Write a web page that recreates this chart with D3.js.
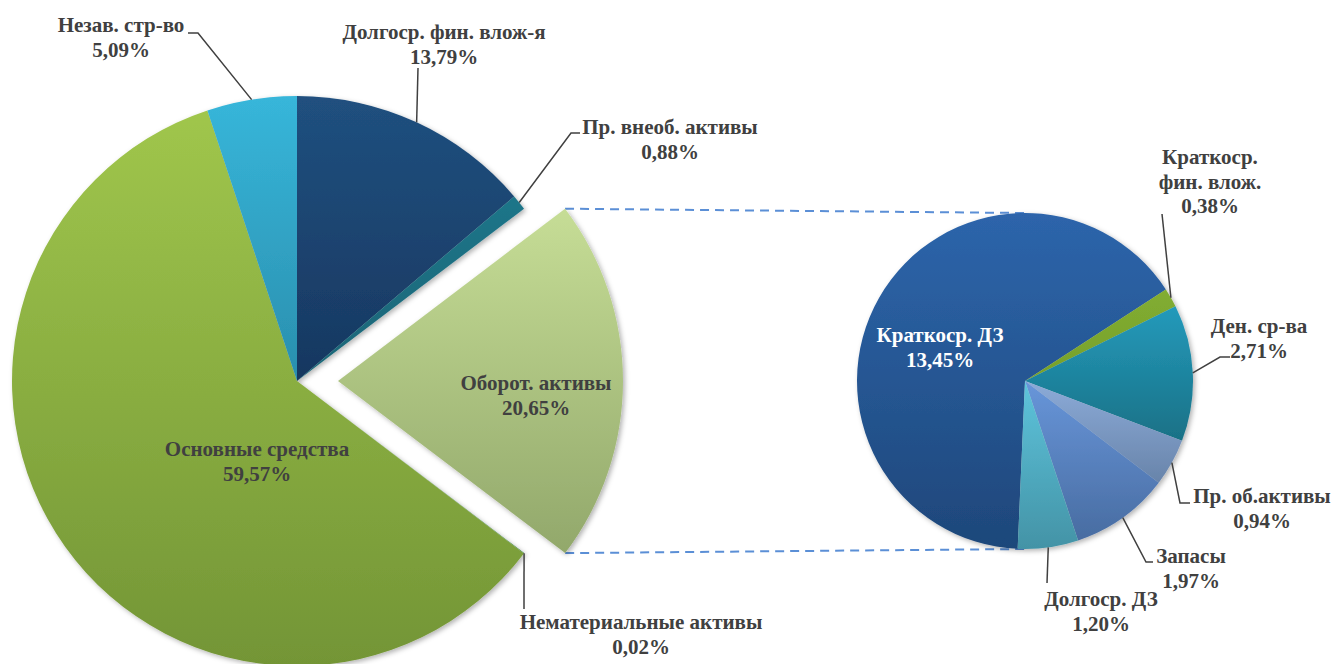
<!DOCTYPE html>
<html>
<head>
<meta charset="utf-8">
<script src="https://cdn.jsdelivr.net/npm/d3@7"></script>
<style>
  html, body { margin: 0; padding: 0; background: #ffffff; }
  svg { display: block; }
  .lbl { font-family: "Liberation Serif", "Times New Roman", serif; font-weight: bold; font-size: 21px; fill: #404040; }
  .leader { fill: none; stroke: #404040; stroke-width: 1.5; }
</style>
</head>
<body>
<svg id="chart"></svg>
<script>
// main pie, clockwise from 12 o'clock
var mainNames = ["Долгоср. фин. влож-я", "Пр. внеоб. активы", "Оборот. активы", "Нематериальные активы", "Основные средства", "Незав. стр-во"];
var mainValues = [13.79, 0.88, 20.65, 0.02, 59.57, 5.09];

// breakdown of "Оборот. активы" (second pie)
var subNames = ["Краткоср. ДЗ", "Краткоср. фин. влож.", "Ден. ср-ва", "Пр. об.активы", "Запасы", "Долгоср. ДЗ"];
var subValues = [13.45, 0.38, 2.71, 0.94, 1.97, 1.20];

var width = 1334, height = 664;

// gradient colours [top, bottom]
var mainColors = [["#20507f", "#173760"], ["#1e7589", "#196576"], ["#c6dd96", "#92a86b"], ["#2a7d3a", "#2a7d3a"], ["#a0c64c", "#739536"], ["#37b6da", "#2a8fae"]];
var subColors = [["#2d65ab", "#1e477a"], ["#82ad31", "#76a02b"], ["#249abb", "#197186"], ["#8cabd8", "#6884aa"], ["#6896da", "#486ca1"], ["#5ec4dc", "#4393a6"]];

// label placement (manual, like in the source chart)
var mainLayout = [
    { x: 444, y: 39, leader: [[418, 68]] },
    { x: 670, y: 134, leader: [[571, 133], [580, 133]] },
    { x: 536, y: 390, inside: true },
    { x: 641, y: 629, leader: [[524, 609]] },
    { x: 257, y: 456, inside: true },
    { x: 121, y: 32, leader: [[198, 33], [188, 33]] }
];
var subLayout = [
    { x: 940, y: 342, inside: true, color: "#ffffff" },
    { x: 1210, y: 164, leader: [[1162, 214]], split: true },
    { x: 1259, y: 333, leader: [[1220, 357], [1230, 357]] },
    { x: 1262, y: 503, leader: [[1180, 503], [1190, 503]] },
    { x: 1191, y: 563, leader: [[1146, 562], [1153, 562]] },
    { x: 1101, y: 606, leader: [[1047, 583]] }
];

var cx1 = 297, cy1 = 381, r1 = 285, explode = 41;
var cx2 = 1025, cy2 = 381, r2 = 168;
var lineH = 24.5;

var fmt = function(v) { return d3.format(".2f")(v).replace(".", ",") + "%"; };

var svg = d3.select("#chart").attr("width", width).attr("height", height);
var defs = svg.append("defs");

var shadow = defs.append("filter").attr("id", "shadow")
    .attr("x", "-10%").attr("y", "-10%").attr("width", "120%").attr("height", "120%");
shadow.append("feDropShadow").attr("dx", 2).attr("dy", 2).attr("stdDeviation", 2.5)
    .attr("flood-color", "#000").attr("flood-opacity", 0.3);

function addGradient(id, c) {
    var g = defs.append("linearGradient").attr("id", id)
        .attr("x1", 0).attr("y1", 0).attr("x2", 0).attr("y2", 1);
    g.append("stop").attr("offset", "0%").attr("stop-color", c[0]);
    g.append("stop").attr("offset", "100%").attr("stop-color", c[1]);
}
mainColors.forEach(function(c, i) { addGradient("gm" + i, c); });
subColors.forEach(function(c, i) { addGradient("gs" + i, c); });

var mainData = mainNames.map(function(n, i) { return { name: n, value: mainValues[i], i: i }; });
var subData = subNames.map(function(n, i) { return { name: n, value: subValues[i], i: i }; });

var pieMain = d3.pie().sort(null).value(function(d) { return d.value; });
var subStart = 182.5 * Math.PI / 180;
var pieSub = d3.pie().sort(null).value(function(d) { return d.value; })
    .startAngle(subStart).endAngle(subStart + 2 * Math.PI);

var arcMain = d3.arc().innerRadius(0).outerRadius(r1);
var arcSub = d3.arc().innerRadius(0).outerRadius(r2);

var mainArcs = pieMain(mainData);
var subArcs = pieSub(subData);

var explodeIdx = 2;
var ex = mainArcs[explodeIdx];
var exMid = (ex.startAngle + ex.endAngle) / 2;
var exDx = explode * Math.sin(exMid), exDy = -explode * Math.cos(exMid);

function onCircle(cx, cy, r, a) { return [cx + r * Math.sin(a), cy - r * Math.cos(a)]; }

// dashed connector lines, drawn first so the second pie sits over them
var pTop = onCircle(cx1 + exDx, cy1 + exDy, r1, ex.startAngle);
var pBot = onCircle(cx1 + exDx, cy1 + exDy, r1, ex.endAngle);
svg.append("g").selectAll("line")
    .data([[pTop, [cx2, cy2 - r2]], [pBot, [cx2, cy2 + r2]]])
    .enter().append("line")
    .attr("x1", function(d) { return d[0][0]; }).attr("y1", function(d) { return d[0][1]; })
    .attr("x2", function(d) { return d[1][0]; }).attr("y2", function(d) { return d[1][1]; })
    .style("stroke", "#5b8fd6").style("stroke-width", 2).style("stroke-dasharray", "9,6");

// main pie
svg.append("g")
    .attr("transform", "translate(" + cx1 + "," + cy1 + ")")
    .attr("filter", "url(#shadow)")
    .selectAll("path")
    .data(mainArcs)
    .enter().append("path")
    .attr("d", arcMain)
    .attr("transform", function(d) {
        return d.index === explodeIdx ? "translate(" + exDx + "," + exDy + ")" : null;
    })
    .style("fill", function(d) { return "url(#gm" + d.index + ")"; });

// second pie
svg.append("g")
    .attr("transform", "translate(" + cx2 + "," + cy2 + ")")
    .attr("filter", "url(#shadow)")
    .selectAll("path")
    .data(subArcs)
    .enter().append("path")
    .attr("d", arcSub)
    .style("fill", function(d) { return "url(#gs" + d.index + ")"; });

function drawLabels(arcs, layout, cx, cy, r) {
    var g = svg.append("g");
    arcs.forEach(function(d, i) {
        var L = layout[i];
        if (L.leader) {
            var mid = (d.startAngle + d.endAngle) / 2;
            var ox = cx, oy = cy;
            if (r === r1 && i === explodeIdx) { ox += exDx; oy += exDy; }
            var pts = [onCircle(ox, oy, r, mid)].concat(L.leader);
            g.append("path").attr("class", "leader").attr("d", d3.line()(pts));
        }
        var lines = L.split ? [d.data.name.slice(0, d.data.name.indexOf(" ")), d.data.name.slice(d.data.name.indexOf(" ") + 1)] : [d.data.name];
        lines.push(fmt(d.data.value));
        var t = g.append("text").attr("class", "lbl").attr("text-anchor", "middle")
            .attr("x", L.x).attr("y", L.y);
        if (L.color) t.style("fill", L.color);
        lines.forEach(function(s, k) {
            t.append("tspan").attr("x", L.x).attr("y", L.y + k * lineH).text(s);
        });
    });
}

drawLabels(mainArcs, mainLayout, cx1, cy1, r1);
drawLabels(subArcs, subLayout, cx2, cy2, r2);
</script>
</body>
</html>
